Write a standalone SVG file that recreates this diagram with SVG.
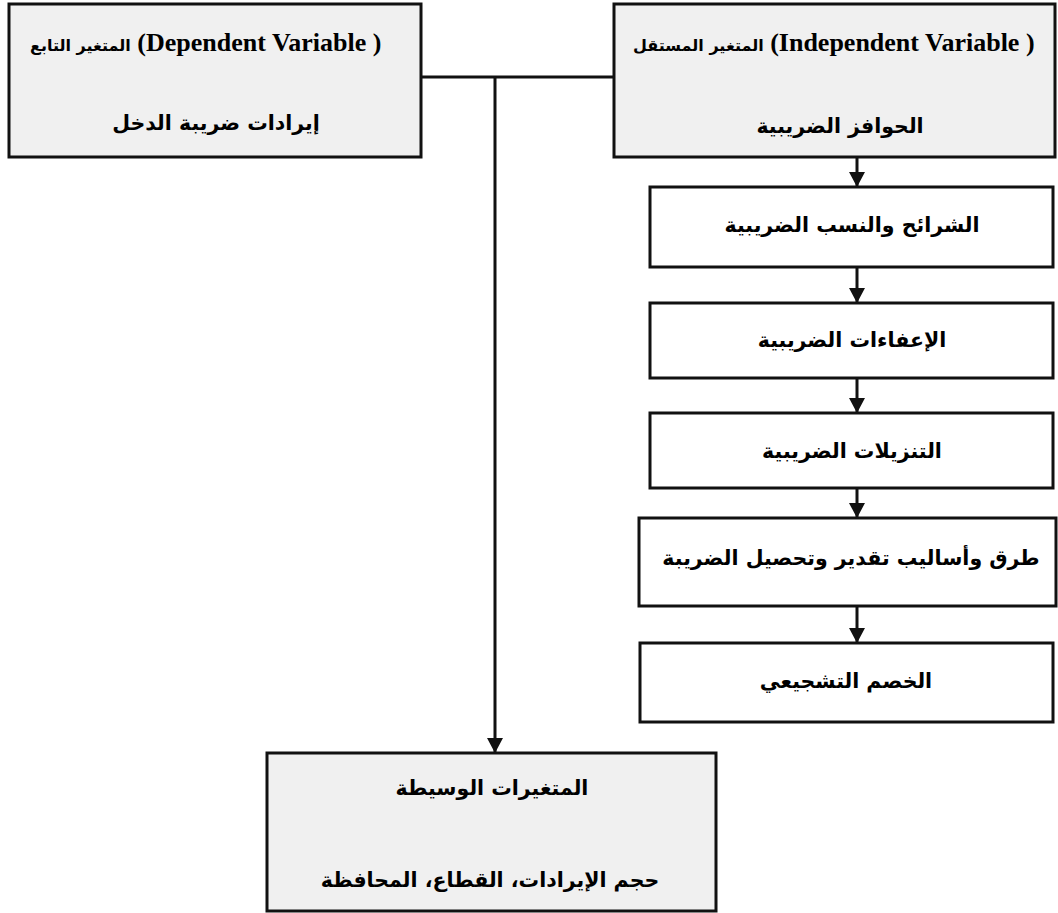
<svg xmlns="http://www.w3.org/2000/svg" width="1058" height="913" viewBox="0 0 1058 913">
<style>
.box{stroke:#111;stroke-width:3;}
.gray{fill:#f0f0f0;}
.white{fill:#ffffff;}
.conn{stroke:#111;stroke-width:3;fill:none;}
.en{font-family:"Liberation Serif","DejaVu Sans",serif;font-weight:bold;font-size:26px;fill:#000;}
.arsm{font-family:"DejaVu Sans","Noto Sans",sans-serif;font-weight:bold;font-size:16px;}
.ar{font-family:"DejaVu Sans","Noto Sans",sans-serif;font-weight:bold;font-size:20.5px;fill:#000;}
</style>
<defs>
<marker id="arr" markerUnits="userSpaceOnUse" markerWidth="16" markerHeight="18" refX="14" refY="8" orient="auto">
<path d="M0,0 L15,8 L0,16 Z" fill="#111"/>
</marker>
</defs>
<rect width="1058" height="913" fill="#ffffff"/>
<g id="connectors">
<line class="conn" x1="421" y1="77" x2="614" y2="77"/>
<line class="conn" x1="495" y1="77" x2="495" y2="752" marker-end="url(#arr)"/>
<line class="conn" x1="857" y1="157" x2="857" y2="186" marker-end="url(#arr)"/>
<line class="conn" x1="857" y1="267" x2="857" y2="302" marker-end="url(#arr)"/>
<line class="conn" x1="857" y1="378" x2="857" y2="412" marker-end="url(#arr)"/>
<line class="conn" x1="857" y1="488" x2="857" y2="517" marker-end="url(#arr)"/>
<line class="conn" x1="857" y1="606" x2="857" y2="642" marker-end="url(#arr)"/>
</g>
<g id="dependent">
<rect class="box gray" x="9" y="4" width="412" height="153"/>
<text class="en" x="30" y="51" direction="ltr"><tspan class="arsm">المتغير التابع</tspan> (Dependent Variable )</text>
<text class="ar" x="216" y="130" text-anchor="middle" direction="rtl">إيرادات ضريبة الدخل</text>
</g>
<g id="independent">
<rect class="box gray" x="614" y="4" width="441" height="153"/>
<text class="en" x="633" y="51" direction="ltr"><tspan class="arsm">المتغير المستقل</tspan> (Independent Variable )</text>
<text class="ar" x="840" y="133" text-anchor="middle" direction="rtl">الحوافز الضريبية</text>
</g>
<g id="brackets">
<rect class="box white" x="650" y="187" width="403" height="80"/>
<text class="ar" x="852" y="232" text-anchor="middle" direction="rtl">الشرائح والنسب الضريبية</text>
</g>
<g id="exemptions">
<rect class="box white" x="650" y="303" width="403" height="75"/>
<text class="ar" x="852" y="347" text-anchor="middle" direction="rtl">الإعفاءات الضريبية</text>
</g>
<g id="deductions">
<rect class="box white" x="650" y="413" width="403" height="75"/>
<text class="ar" x="852" y="458" text-anchor="middle" direction="rtl">التنزيلات الضريبية</text>
</g>
<g id="methods">
<rect class="box white" x="639" y="518" width="417" height="88"/>
<text class="ar" x="851" y="565" text-anchor="middle" direction="rtl">طرق وأساليب تقدير وتحصيل الضريبة</text>
</g>
<g id="discount">
<rect class="box white" x="640" y="643" width="413" height="79"/>
<text class="ar" x="846" y="688" text-anchor="middle" direction="rtl">الخصم التشجيعي</text>
</g>
<g id="moderators">
<rect class="box gray" x="267" y="753" width="449" height="158"/>
<text class="ar" x="492" y="795" text-anchor="middle" direction="rtl">المتغيرات الوسيطة</text>
<text class="ar" x="490" y="887" text-anchor="middle" direction="rtl">حجم الإيرادات، القطاع، المحافظة</text>
</g>
</svg>
